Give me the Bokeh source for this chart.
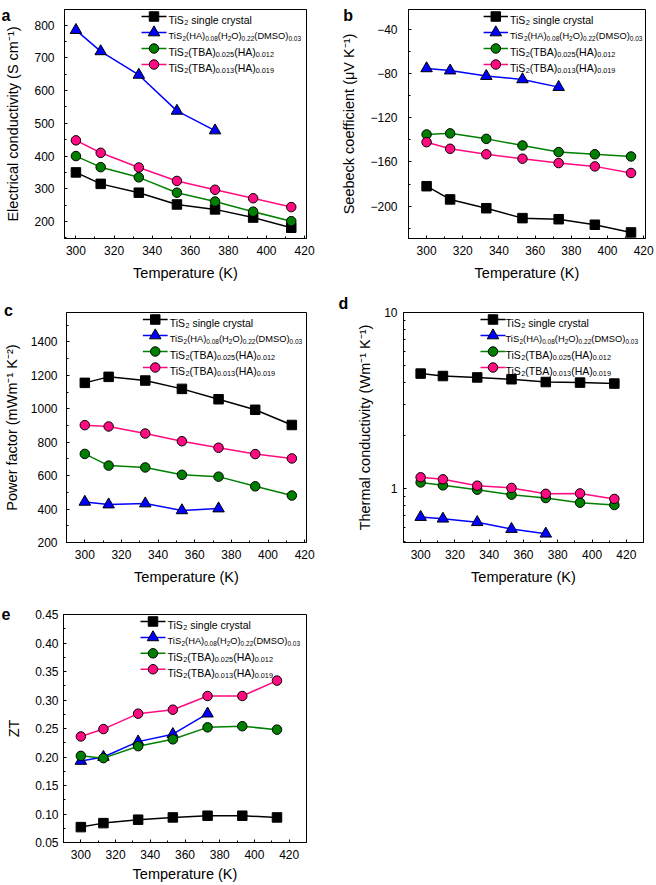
from bokeh.plotting import figure
from bokeh.layouts import column, row
from bokeh.models import (Range1d, FixedTicker, LinearScale, ColumnDataSource,
                          CustomJSTickFormatter, NumeralTickFormatter)
from bokeh.embed import file_html
from bokeh.resources import INLINE
from bokeh.core.properties import value

FONT = "Liberation Sans"

# ---------------- data ----------------
temperature = [300, 313, 333, 353, 373, 393, 413]
temperature_hybrid = [300, 313, 333, 353, 373]

cond_single = [350, 315, 288, 252, 237, 212, 181]
cond_hybrid = [785, 720, 648, 538, 478]
cond_tba025 = [400, 366, 335, 288, 261, 230, 201]
cond_tba013 = [448, 410, 365, 324, 297, 271, 244]

seebeck_single = [-182, -194, -202, -211, -212, -217, -224]
seebeck_hybrid = [-75, -77, -82, -85, -92]
seebeck_tba025 = [-135, -134, -139, -145, -151, -153, -155]
seebeck_tba013 = [-142, -148, -153, -157, -161, -164, -170]

pf_single = [1155, 1191, 1169, 1119, 1057, 994, 903]
pf_hybrid = [443, 427, 433, 392, 403]
pf_tba025 = [730, 660, 649, 605, 594, 536, 481]
pf_tba013 = [902, 894, 852, 806, 767, 729, 703]

kappa_single = [4.5, 4.36, 4.28, 4.18, 4.03, 4.0, 3.95]
kappa_hybrid = [0.69, 0.675, 0.645, 0.59, 0.555]
kappa_tba025 = [1.085, 1.045, 0.987, 0.925, 0.885, 0.833, 0.808]
kappa_tba013 = [1.16, 1.13, 1.04, 1.01, 0.935, 0.94, 0.875]

zt_single = [0.077, 0.084, 0.090, 0.094, 0.097, 0.097, 0.094]
zt_hybrid = [0.193, 0.200, 0.227, 0.240, 0.276]
zt_tba025 = [0.202, 0.198, 0.219, 0.231, 0.252, 0.254, 0.248]
zt_tba013 = [0.236, 0.249, 0.276, 0.283, 0.307, 0.307, 0.334]

# legend labels as (text, is_subscript) pieces
label_single = [("TiS", 0), ("2", 1), (" single crystal", 0)]
label_hybrid = [("TiS", 0), ("2", 1), ("(HA)", 0), ("0.08", 1), ("(H", 0), ("2", 1),
                ("O)", 0), ("0.22", 1), ("(DMSO)", 0), ("0.03", 1)]
label_tba025 = [("TiS", 0), ("2", 1), ("(TBA)", 0), ("0.025", 1), ("(HA)", 0), ("0.012", 1)]
label_tba013 = [("TiS", 0), ("2", 1), ("(TBA)", 0), ("0.013", 1), ("(HA)", 0), ("0.019", 1)]
series_labels = [label_single, label_hybrid, label_tba025, label_tba013]

x_ticks = [300, 320, 340, 360, 380, 400, 420]
x_minor = [290, 300, 310, 320, 330, 340, 350, 360, 370, 380, 390, 400, 410, 420, 430]
cond_ticks = [200, 300, 400, 500, 600, 700, 800]
cond_minor = [150, 250, 350, 450, 550, 650, 750, 850]
seebeck_ticks = [-200, -160, -120, -80, -40]
seebeck_minor = [-220, -180, -140, -100, -60, -20]
pf_ticks = [200, 400, 600, 800, 1000, 1200, 1400]
pf_minor = [300, 500, 700, 900, 1100, 1300, 1500]
kappa_ticks = [1, 10]
kappa_minor = [0.5, 0.6, 0.7, 0.8, 0.9, 2, 3, 4, 5, 6, 7, 8, 9]
zt_ticks = [0.05, 0.10, 0.15, 0.20, 0.25, 0.30, 0.35, 0.40, 0.45]
zt_minor = [0.075, 0.125, 0.175, 0.225, 0.275, 0.325, 0.375, 0.425]

# ---------------- styles ----------------
COLORS = ["#000000", "#0000ff", "#008000", "#ff0a80"]
MARKERS = ["square", "triangle", "circle", "circle"]
MSIZES = [9.5, 11.5, 9.5, 9.5]
LEG_FONT = [10.5, 9.3, 10.5, 10.5]

W = {"T": 611, "i": 222, "S": 667, " ": 278, "s": 500, "n": 556, "g": 556, "l": 222,
     "e": 556, "c": 500, "r": 333, "y": 500, "t": 278, "a": 556, "(": 333, ")": 333,
     "H": 722, "A": 667, "O": 778, "D": 722, "M": 833, "B": 667, ".": 278}
for d in "0123456789":
    W[d] = 556


def make_panel(letter, letter_pos, width, height, bl, bt, br, bb, xr, yr, y_log,
               yticks, yminor, yformatter, ylabel, ystand, ylab_stand, xstand, xlab_stand,
               series, legend_x=104):
    fw = width - bl - br
    fh = height - bt - bb
    p = figure(width=width, height=height, x_range=Range1d(*xr), y_range=Range1d(*yr),
               y_axis_type="log" if y_log else "linear",
               output_backend="svg", toolbar_location=None,
               min_border_left=bl, min_border_right=br, min_border_top=bt, min_border_bottom=bb)
    p.extra_x_ranges = {"px": Range1d(0, fw)}
    p.extra_y_ranges = {"py": Range1d(fh, 0)}
    p.extra_x_scales = {"px": LinearScale()}
    p.extra_y_scales = {"py": LinearScale()}
    p.xgrid.visible = False
    p.ygrid.visible = False
    p.outline_line_color = "black"
    p.outline_line_width = 1
    p.outline_line_alpha = 1
    p.background_fill_color = "white"
    p.border_fill_color = "white"

    p.xaxis.ticker = FixedTicker(ticks=x_ticks, minor_ticks=x_minor)
    p.yaxis.ticker = FixedTicker(ticks=yticks, minor_ticks=yminor)
    p.yaxis.formatter = yformatter
    p.xaxis.axis_label = "Temperature (K)"
    p.yaxis.axis_label = ylabel
    for ax in (p.xaxis[0], p.yaxis[0]):
        ax.axis_line_color = "black"
        ax.axis_line_width = 1
        ax.major_tick_in = 3
        ax.major_tick_out = 0
        ax.minor_tick_in = 2
        ax.minor_tick_out = 0
        ax.major_tick_line_color = "black"
        ax.minor_tick_line_color = "black"
        ax.major_label_text_font = FONT
        ax.major_label_text_font_size = "12px"
        ax.major_label_text_color = "black"
        ax.axis_label_text_font = FONT
        ax.axis_label_text_font_size = "14.5px"
        ax.axis_label_text_font_style = "normal"
        ax.axis_label_text_color = "black"
    p.xaxis.major_label_standoff = xstand
    p.xaxis.axis_label_standoff = xlab_stand
    p.yaxis.major_label_standoff = ystand
    p.yaxis.axis_label_standoff = ylab_stand

    for i, (xs, ys) in enumerate(series):
        p.line(xs, ys, line_color=COLORS[i], line_width=1.5)
        p.scatter(xs, ys, marker=MARKERS[i], size=MSIZES[i], fill_color=COLORS[i],
                  line_color="black", line_width=1)

    # legend (pixel coordinates inside the frame, y measured downward from the top)
    x0, x1, xm, xt, y0, dy = 77, 102, 89.5, legend_x, 7, 16
    for i, parts in enumerate(series_labels):
        y = y0 + i * dy
        p.line([x0, x1], [y, y], line_color=COLORS[i], line_width=1.5,
               x_range_name="px", y_range_name="py")
        p.scatter([xm], [y], marker=MARKERS[i], size=MSIZES[i], fill_color=COLORS[i],
                  line_color="black", line_width=1, x_range_name="px", y_range_name="py")
        size = LEG_FONT[i]
        texts, offs, sizes, yoffs = [], [], [], []
        cur = 0.0
        for t, sub in parts:
            fs = size * 0.7 if sub else size
            stripped = t.lstrip(" ")
            lead = sum(W[ch] for ch in t[:len(t) - len(stripped)]) / 1000.0 * fs
            texts.append(stripped)
            offs.append(cur + lead)
            sizes.append(f"{fs:.1f}px")
            yoffs.append(2.6 if sub else 0)
            cur += sum(W[ch] for ch in t) / 1000.0 * fs
        src = ColumnDataSource(dict(x=[xt] * len(texts), y=[y + 3.6] * len(texts), text=texts,
                                    xo=offs, yo=yoffs, fs=sizes))
        p.text(x="x", y="y", text="text", x_offset="xo", y_offset="yo", text_font_size="fs",
               source=src, text_font=value(FONT), text_color="black",
               text_baseline="alphabetic", text_align="left",
               x_range_name="px", y_range_name="py")

    # panel letter, drawn at overlay level so that it is not clipped to the frame
    p.text(x=[letter_pos[0]], y=[letter_pos[1]], text=[letter], level="overlay",
           text_font=value(FONT), text_font_size="16px", text_font_style="bold",
           text_color="black", text_baseline="alphabetic", text_align="left",
           x_range_name="px", y_range_name="py")
    return p


minus_fmt = CustomJSTickFormatter(code="return String(tick).replace('-', '\\u2212');")
plain_fmt = CustomJSTickFormatter(code="return String(tick);")

pa = make_panel("a", (-63, 6), 338, 290, 64, 9, 32, 52, (294, 421), (148, 848), False,
                cond_ticks, cond_minor, NumeralTickFormatter(format="0"),
                "Electrical conductivity (S cm\u207b\u00b9)", 10, 10, 7, 7,
                [(temperature, cond_single), (temperature_hybrid, cond_hybrid),
                 (temperature, cond_tba025), (temperature, cond_tba013)])
pb = make_panel("b", (-67, 6), 318, 290, 64, 9, 11, 52, (290, 421), (-229.5, -21.5), False,
                seebeck_ticks, seebeck_minor, minus_fmt,
                "Seebeck coefficient (\u03bcV K\u207b\u00b9)", 11, 10, 7, 7,
                [(temperature, seebeck_single), (temperature_hybrid, seebeck_hybrid),
                 (temperature, seebeck_tba025), (temperature, seebeck_tba013)])
pc = make_panel("c", (-63, -2), 338, 300, 64, 22, 32, 48, (290, 421), (200, 1576), False,
                pf_ticks, pf_minor, NumeralTickFormatter(format="0"),
                "Power factor (mWm\u207b\u00b9 K\u207b\u00b2)", 9, 8, 7, 7,
                [(temperature, pf_single), (temperature_hybrid, pf_hybrid),
                 (temperature, pf_tba025), (temperature, pf_tba013)])
pd = make_panel("d", (-65, -9.5), 318, 300, 65, 22, 13, 48, (290, 430), (0.495, 10), True,
                kappa_ticks, kappa_minor, plain_fmt,
                "Thermal conductivity (Wm\u207b\u00b9 K\u207b\u00b9)", 6, 8, 7, 7,
                [(temperature, kappa_single), (temperature_hybrid, kappa_hybrid),
                 (temperature, kappa_tba025), (temperature, kappa_tba013)], legend_x=102)
pe = make_panel("e", (-62, -1), 338, 294, 63, 24, 32, 41, (290, 430), (0.05, 0.45), False,
                zt_ticks, zt_minor, NumeralTickFormatter(format="0.00"),
                "ZT", 5, 10, 7, 4,
                [(temperature, zt_single), (temperature_hybrid, zt_hybrid),
                 (temperature, zt_tba025), (temperature, zt_tba013)])

layout = column(row(pa, pb), row(pc, pd), pe)

with open("out.html", "w") as f:
    f.write(file_html(layout, INLINE))
